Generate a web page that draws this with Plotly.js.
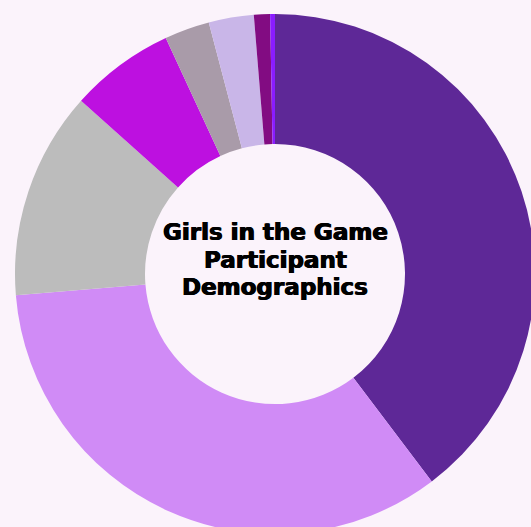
<!DOCTYPE html>
<html>
<head>
<meta charset="utf-8">
<script src="https://cdn.plot.ly/plotly-3.0.1.min.js"></script>
<style>
html, body { margin:0; padding:0; overflow:hidden; background:#fbf3fb; width:531px; height:527px; }
#chart { width:550px; height:548px; }
</style>
</head>
<body>
<div id="chart"></div>
<script>
const categories = ["Group A", "Group B", "Group C", "Group D", "Group E", "Group F", "Group G", "Group H"];
const values = [39.7, 34.0, 12.9, 6.5, 2.8, 2.8, 1.0, 0.3];
const colors = ["#5e2897", "#d08bf6", "#bcbcbc", "#bd10e0", "#a99ba9", "#c9b6e8", "#820c82", "#8a1cff"];
const centerTitle = ["Girls in the Game", "Participant", "Demographics"];

const lineShifts = [42, 14, -13];

const trace = {
  type: "pie",
  labels: categories,
  values: values,
  hole: 0.5,
  sort: false,
  direction: "clockwise",
  rotation: 0,
  textinfo: "none",
  hoverinfo: "label+percent",
  marker: { colors: colors, line: { width: 0 } },
  domain: { x: [0, 1], y: [0, 1] },
  showlegend: false
};

const layout = {
  width: 550,
  height: 548,
  margin: { l: 15, r: 15, t: 14, b: 14 },
  paper_bgcolor: "#fbf3fb",
  plot_bgcolor: "#fbf3fb",
  showlegend: false,
  annotations: centerTitle.map((t, i) => ({
    text: t,
    x: 0.5, y: 0.5, xref: "paper", yref: "paper",
    xanchor: "center", yanchor: "middle",
    yshift: lineShifts[i],
    showarrow: false,
    font: {
      family: "DejaVu Sans, sans-serif", size: 23, color: "#000000", weight: 700,
      shadow: "0.6px 0 0 #000, -0.6px 0 0 #000"
    }
  }))
};

Plotly.newPlot("chart", [trace], layout, { displayModeBar: false, staticPlot: true });
</script>
</body>
</html>
